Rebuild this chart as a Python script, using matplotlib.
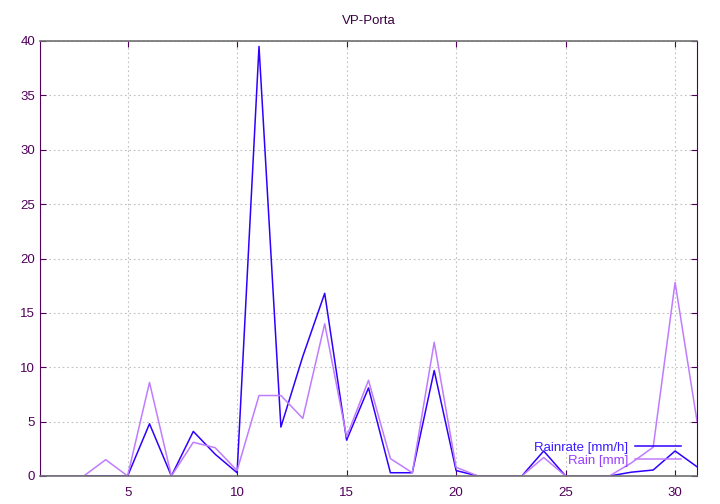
import matplotlib.pyplot as plt
import numpy as np

days = list(range(1, 32))
rainrate = [0, 0, 0, 0, 0, 4.8, 0, 4.1, 2.0, 0.3, 39.5, 4.5, 11.0, 16.8, 3.3, 8.1,
            0.3, 0.3, 9.7, 0.5, 0, 0, 0, 2.3, 0, 0, 0, 0.35, 0.55, 2.3, 0.85]
rain = [0, 0, 0, 1.5, 0, 8.6, 0, 3.1, 2.6, 0.5, 7.4, 7.4, 5.3, 14.0, 3.6, 8.8,
        1.6, 0.3, 12.3, 0.8, 0, 0, 0, 1.7, 0, 0, 0, 1.2, 2.65, 17.8, 5.05]

plt.rcParams['font.family'] = ['Liberation Sans', 'DejaVu Sans']
axis_col = '#50005a'

fig = plt.figure(figsize=(7.2, 5.04), dpi=100)
ax = fig.add_axes([40/720, 1 - 476/504, 657/720, 435/504])

ax.plot(days, rainrate, color='#3000ff', lw=1.1, label='Rainrate [mm/h]')
ax.plot(days, rain, color='#c07cff', lw=1.1, label='Rain [mm]')

ax.set_xlim(1, 31)
ax.set_ylim(0, 40)
ax.set_xticks([5, 10, 15, 20, 25, 30])
ax.set_yticks(np.arange(0, 41, 5))
ax.grid(True, color='#c0c0c0', linestyle=(0, (1.5, 2.5)), lw=0.8)
ax.tick_params(direction='in', length=4, colors=axis_col, labelsize=9.5,
               top=True, right=True)
ax.tick_params(axis='x', pad=8)
for side in ['left', 'right']:
    ax.spines[side].set_color(axis_col)
for side in ['top', 'bottom']:
    ax.spines[side].set_color('#707070')
    ax.spines[side].set_linewidth(1.2)

ax.set_title('VP-Porta', fontsize=9.5, color='#3a0040', pad=12)

leg = ax.legend(loc='lower right', bbox_to_anchor=(0.99, 0.0), frameon=False,
                fontsize=9.5, markerfirst=False, handlelength=3.5,
                labelspacing=0.05, borderaxespad=0.3, handletextpad=0.5)
for t, c in zip(leg.get_texts(), ['#3a1aff', '#9a3cff']):
    t.set_color(c)
    t.set_ha('right')

fig.savefig('out.png', dpi=100)
